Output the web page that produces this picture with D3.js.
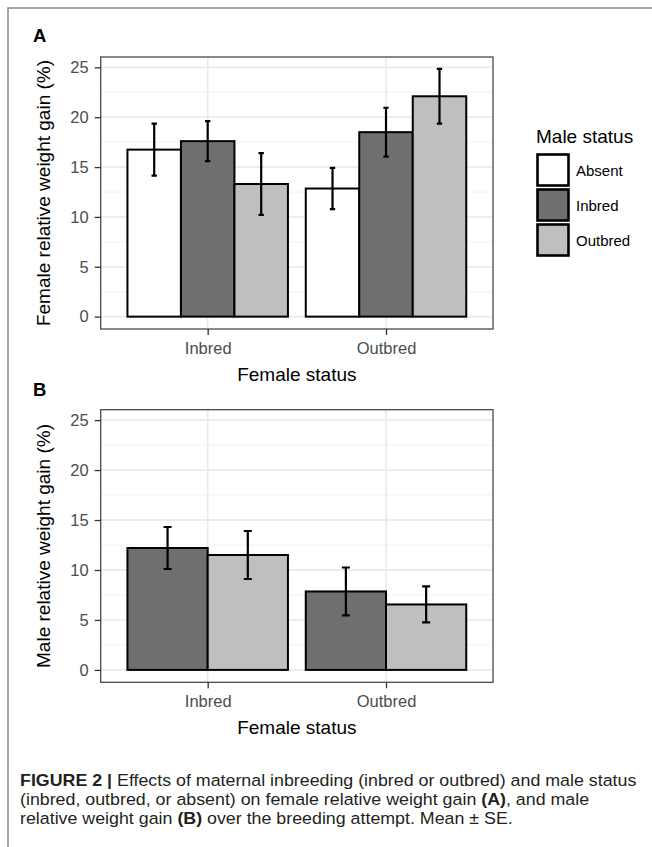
<!DOCTYPE html>
<html>
<head>
<meta charset="utf-8">
<script src="https://cdn.jsdelivr.net/npm/d3@7"></script>
<style>
  html, body { margin: 0; padding: 0; background: #fff; }
  svg { display: block; font-family: "Liberation Sans", Arial, Helvetica, sans-serif; }
  .grid-major { stroke: #ebebeb; stroke-width: 1.8; }
  .grid-minor { stroke: #f2f2f2; stroke-width: 1; }
  .tick-label { fill: #4d4d4d; font-size: 16.5px; }
  .axis-title { fill: #000; font-size: 19px; }
  .caption { fill: #231f20; font-size: 16.5px; }
</style>
</head>
<body>
<svg id="fig" width="652" height="847"></svg>
<script>
// categories
const femaleStatus = ['Inbred', 'Outbred'];
const maleStatusA = ['Absent', 'Inbred', 'Outbred'];
const maleStatusB = ['Inbred', 'Outbred'];
const yTicks = [0, 5, 10, 15, 20, 25];

// panel A: female relative weight gain (%), mean and SE, per female status
const femaleGainMean = { Inbred: [16.75, 17.6, 13.3], Outbred: [12.85, 18.5, 22.1] };
const femaleGainSE   = { Inbred: [2.6, 2.0, 3.1],    Outbred: [2.07, 2.45, 2.75] };

// panel B: male relative weight gain (%)
const maleGainMean = { Inbred: [12.2, 11.5], Outbred: [7.85, 6.55] };
const maleGainSE   = { Inbred: [2.1, 2.4],  Outbred: [2.4, 1.8] };

const fillFor = { Absent: '#ffffff', Inbred: '#6f6f6f', Outbred: '#bfbfbf' };

const svg = d3.select('#fig');

// outer figure frame
svg.append('path')
    .attr('d', 'M8,847 L8,8 L652,8')
    .attr('fill', 'none')
    .attr('stroke', '#8a8a8a')
    .attr('stroke-width', 1.5);

function drawPanel(opt) {
    const left = 100.7, right = 493;
    const top = opt.top, bottom = opt.bottom;

    const y = d3.scaleLinear().domain([-1.24, 26.04]).range([bottom, top]);
    const x = d3.scalePoint().domain(femaleStatus).range([left, right]).padding(0.6);
    const groupW = x.step() * 0.9;
    const xSub = d3.scaleBand().domain(opt.males).range([-groupW / 2, groupW / 2]).padding(0);

    const g = svg.append('g');

    // minor grid
    g.selectAll('.grid-minor')
        .data(d3.range(2.5, 26, 5))
        .enter().append('line')
        .attr('class', 'grid-minor')
        .attr('x1', left).attr('x2', right)
        .attr('y1', d => y(d)).attr('y2', d => y(d));

    // major grid
    g.selectAll('.grid-major-y')
        .data(yTicks)
        .enter().append('line')
        .attr('class', 'grid-major')
        .attr('x1', left).attr('x2', right)
        .attr('y1', d => y(d)).attr('y2', d => y(d));

    g.selectAll('.grid-major-x')
        .data(femaleStatus)
        .enter().append('line')
        .attr('class', 'grid-major')
        .attr('x1', d => x(d)).attr('x2', d => x(d))
        .attr('y1', top).attr('y2', bottom);

    // bars
    const rows = [];
    femaleStatus.forEach(f => {
        opt.males.forEach((m, i) => {
            rows.push({ female: f, male: m, mean: opt.mean[f][i], se: opt.se[f][i] });
        });
    });

    g.selectAll('.bar')
        .data(rows)
        .enter().append('rect')
        .attr('class', 'bar')
        .attr('x', d => x(d.female) + xSub(d.male))
        .attr('y', d => y(d.mean))
        .attr('width', xSub.bandwidth())
        .attr('height', d => y(0) - y(d.mean))
        .attr('fill', d => fillFor[d.male])
        .attr('stroke', '#000')
        .attr('stroke-width', 2);

    // error bars
    const capW = xSub.bandwidth() * 0.1;
    g.selectAll('.errbar')
        .data(rows)
        .enter().append('path')
        .attr('class', 'errbar')
        .attr('fill', 'none')
        .attr('stroke', '#000')
        .attr('stroke-width', 2.2)
        .attr('d', d => {
            const cx = x(d.female) + xSub(d.male) + xSub.bandwidth() / 2;
            const y1 = y(d.mean + d.se), y2 = y(d.mean - d.se);
            return 'M' + (cx - capW / 2) + ',' + y1 + 'H' + (cx + capW / 2) +
                'M' + cx + ',' + y1 + 'V' + y2 +
                'M' + (cx - capW / 2) + ',' + y2 + 'H' + (cx + capW / 2);
        });

    // panel border
    g.append('rect')
        .attr('x', left).attr('y', top)
        .attr('width', right - left).attr('height', bottom - top)
        .attr('fill', 'none')
        .attr('stroke', '#4a4a4a')
        .attr('stroke-width', 1.3);

    // y axis
    const yAxis = g.append('g')
        .attr('transform', 'translate(' + left + ',0)')
        .call(d3.axisLeft(y).tickValues(yTicks).tickSize(6).tickPadding(6));
    yAxis.select('.domain').remove();
    yAxis.selectAll('line').attr('stroke', '#333').attr('stroke-width', 1.3);
    yAxis.selectAll('text').attr('class', 'tick-label').attr('font-family', null).attr('font-size', null);

    // x axis
    const xAxis = g.append('g')
        .attr('transform', 'translate(0,' + bottom + ')')
        .call(d3.axisBottom(x).tickSize(6).tickPadding(7));
    xAxis.select('.domain').remove();
    xAxis.selectAll('line').attr('stroke', '#333').attr('stroke-width', 1.3);
    xAxis.selectAll('text').attr('class', 'tick-label').attr('font-family', null).attr('font-size', null);

    // titles
    g.append('text')
        .attr('class', 'axis-title')
        .attr('x', (left + right) / 2)
        .attr('y', bottom + 52)
        .attr('text-anchor', 'middle')
        .text('Female status');

    g.append('text')
        .attr('class', 'axis-title')
        .attr('transform', 'translate(50,' + (top + bottom) / 2 + ') rotate(-90)')
        .attr('text-anchor', 'middle')
        .text(opt.yTitle);

    g.append('text')
        .attr('x', 33)
        .attr('y', opt.labelY)
        .attr('font-size', '18.5px')
        .attr('font-weight', 'bold')
        .text(opt.label);
}

drawPanel({
    top: 57, bottom: 329, label: 'A', labelY: 41.5,
    males: maleStatusA, mean: femaleGainMean, se: femaleGainSE,
    yTitle: 'Female relative weight gain (%)'
});

drawPanel({
    top: 409.7, bottom: 682.3, label: 'B', labelY: 396,
    males: maleStatusB, mean: maleGainMean, se: maleGainSE,
    yTitle: 'Male relative weight gain (%)'
});

// legend
const legend = svg.append('g').attr('transform', 'translate(536,0)');
legend.append('text')
    .attr('x', 0).attr('y', 143.3)
    .attr('font-size', '19px')
    .text('Male status');

const keys = legend.selectAll('.key')
    .data(maleStatusA)
    .enter().append('g')
    .attr('class', 'key')
    .attr('transform', (d, i) => 'translate(0,' + (154.5 + i * 35) + ')');

keys.append('rect')
    .attr('x', 1.5).attr('y', 0)
    .attr('width', 31).attr('height', 31)
    .attr('fill', d => fillFor[d])
    .attr('stroke', '#000')
    .attr('stroke-width', 2.6);

keys.append('text')
    .attr('x', 40).attr('y', 16)
    .attr('dy', '0.35em')
    .attr('font-size', '15px')
    .text(d => d);

// caption
const captionLines = [
    [['FIGURE 2 | ', true], ['Effects of maternal inbreeding (inbred or outbred) and male status', false]],
    [['(inbred, outbred, or absent) on female relative weight gain ', false], ['(A)', true], [', and male', false]],
    [['relative weight gain ', false], ['(B)', true], [' over the breeding attempt. Mean \u00b1 SE.', false]]
];

const cap = svg.append('g');
const capLines = cap.selectAll('text')
    .data(captionLines)
    .enter().append('text')
    .attr('class', 'caption')
    .attr('x', 0)
    .attr('y', (d, i) => 786 + i * 19);

capLines.selectAll('tspan')
    .data(d => d)
    .enter().append('tspan')
    .attr('font-weight', d => d[1] ? 'bold' : null)
    .text(d => d[0]);

// the caption face is condensed, so squeeze the lines to the measured width
const w1 = capLines.node().getComputedTextLength();
cap.attr('transform', 'translate(20,0) scale(' + (617 / w1) + ',1)');
</script>
</body>
</html>
